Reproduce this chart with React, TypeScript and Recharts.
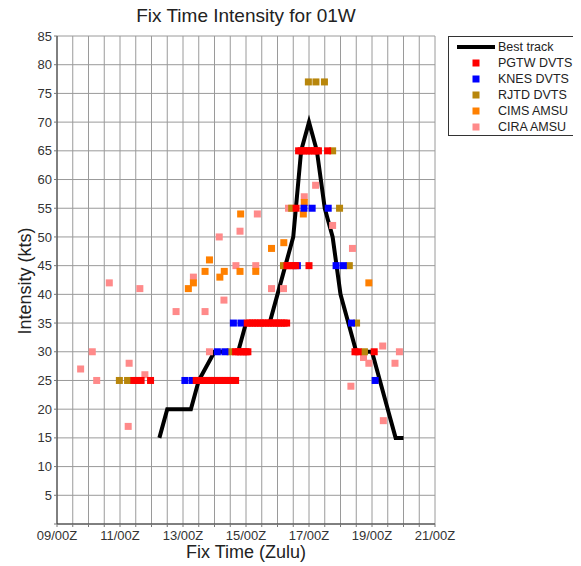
import {
  CartesianGrid,
  ComposedChart,
  Line,
  Scatter,
  XAxis,
  YAxis,
} from 'recharts';

// time in days of the month (9.0 = 09/00Z), intensity in kts
const bestTrackTime = [12.25, 12.5, 13.25, 13.5, 14.0, 14.75, 15.0, 15.75, 16.0, 16.25, 16.5, 16.75, 17.0, 17.25, 17.5, 17.75, 18.0, 18.25, 18.5, 19.0, 19.25, 19.5, 19.75, 20.0];
const bestTrackKts = [15, 20, 20, 25, 30, 30, 35, 35, 40, 45, 50, 65, 70, 65, 55, 50, 40, 35, 30, 30, 25, 20, 15, 15];

const pgtwTime = [
  11.44, 11.54, 11.67, 11.97,
  13.42, 13.5, 13.58, 13.67, 13.75, 13.83, 13.92, 14.0, 14.08, 14.17, 14.25, 14.33, 14.42, 14.5, 14.58, 14.67,
  14.67, 14.75, 14.83, 14.92, 15.0, 15.06,
  15.04, 15.12, 15.21, 15.29, 15.37, 15.46, 15.54, 15.62, 15.71, 15.79, 15.87, 15.96, 16.04, 16.12, 16.21, 16.29,
  16.3, 16.4, 16.5, 16.58, 17.0,
  16.59,
  16.67, 16.75, 16.83, 16.92, 17.0, 17.08, 17.17, 17.25, 17.3, 17.59,
  18.46, 18.56, 19.07,
];
const pgtwKts = [
  25, 25, 25, 25,
  25, 25, 25, 25, 25, 25, 25, 25, 25, 25, 25, 25, 25, 25, 25, 25,
  30, 30, 30, 30, 30, 30,
  35, 35, 35, 35, 35, 35, 35, 35, 35, 35, 35, 35, 35, 35, 35, 35,
  45, 45, 45, 45, 45,
  55,
  65, 65, 65, 65, 65, 65, 65, 65, 65, 65,
  30, 30, 30,
];

const knesTime = [13.06, 13.29, 14.09, 14.33, 14.6, 14.84, 16.63, 16.84, 17.1, 17.61, 17.86, 18.09, 18.35, 19.1];
const knesKts = [25, 25, 30, 30, 35, 35, 45, 55, 55, 55, 45, 45, 35, 25];

const rjtdTime = [10.98, 11.24, 14.5, 16.19, 16.45, 16.98, 17.22, 17.49, 17.75, 17.97, 18.28, 18.51, 18.76];
const rjtdKts = [25, 25, 30, 45, 55, 77, 77, 77, 65, 55, 45, 35, 30];

const cimsTime = [13.17, 13.33, 13.7, 13.84, 14.17, 14.31, 14.81, 14.83, 15.31, 15.81, 16.2, 16.82, 16.85, 18.9];
const cimsKts = [41, 42, 44, 46, 43, 44, 44, 54, 44, 48, 49, 54, 56, 42];

const ciraTime = [9.75, 10.12, 10.26, 10.66, 11.26, 11.29, 11.63, 11.79, 12.78, 13.33, 13.7, 13.84, 14.15, 14.3, 14.68, 14.81, 15.31, 15.36, 15.81, 16.19, 16.35, 16.85, 17.21, 17.75, 18.33, 18.38, 18.73, 18.9, 19.34, 19.36, 19.73, 19.87];
const ciraKts = [27, 30, 25, 42, 17, 28, 41, 26, 37, 43, 37, 30, 50, 39, 45, 51, 45, 54, 41, 41, 55, 57, 59, 52, 24, 48, 29, 28, 31, 18, 28, 30];

const xTicks = [9, 9.5, 10, 10.5, 11, 11.5, 12, 12.5, 13, 13.5, 14, 14.5, 15, 15.5, 16, 16.5, 17, 17.5, 18, 18.5, 19, 19.5, 20, 20.5, 21];
const xLabelTicks = [9, 11, 13, 15, 17, 19, 21];
const yTicks = [0, 5, 10, 15, 20, 25, 30, 35, 40, 45, 50, 55, 60, 65, 70, 75, 80, 85];

const seriesNames = ['Best track', 'PGTW DVTS', 'KNES DVTS', 'RJTD DVTS', 'CIMS AMSU', 'CIRA AMSU'];
const seriesColors = ['#000000', '#ff0000', '#0000ff', '#b8860b', '#ff8000', '#ff8a8a'];

const toPts = (t: number[], k: number[]) => t.map((d, i) => ({ d, v: k[i] }));

const FONT = '"Liberation Sans", Arial, sans-serif';

function square(color: string) {
  return (props: { cx?: number; cy?: number }) => {
    if (props.cx == null || props.cy == null) return <g />;
    return <rect x={props.cx - 3.5} y={props.cy - 3.5} width={7} height={7} fill={color} />;
  };
}

function fmtX(v: number) {
  if (!xLabelTicks.includes(v)) return '';
  return `${String(v).padStart(2, '0')}/00Z`;
}

function LegendBox() {
  return (
    <div
      style={{
        position: 'absolute',
        left: 448,
        top: 36,
        width: 128,
        height: 98,
        border: '1.5px solid #333',
        background: '#fff',
        fontFamily: FONT,
        fontSize: 12.5,
        color: '#222',
      }}
    >
      {seriesNames.map((name, i) => (
        <div key={name} style={{ position: 'absolute', left: 0, top: 2 + i * 15.9, height: 16, width: 128 }}>
          <svg width={48} height={16} style={{ position: 'absolute', left: 6, top: 0 }}>
            {i === 0 ? (
              <line x1={2} x2={40} y1={8} y2={8} stroke="#000" strokeWidth={4} />
            ) : (
              <rect x={17.5} y={4.5} width={7} height={7} fill={seriesColors[i]} />
            )}
          </svg>
          <span style={{ position: 'absolute', left: 49, top: 0, lineHeight: '16px', whiteSpace: 'nowrap' }}>{name}</span>
        </div>
      ))}
    </div>
  );
}

export default function App() {
  const best = toPts(bestTrackTime, bestTrackKts);
  return (
    <div style={{ position: 'relative', width: 581, height: 566, margin: '-8px 0 0 -8px', background: '#fff' }}>
      <div
        style={{
          position: 'absolute',
          left: 96,
          width: 300,
          top: 5,
          textAlign: 'center',
          fontFamily: FONT,
          fontSize: 19,
          color: '#222',
          whiteSpace: 'nowrap',
        }}
      >
        Fix Time Intensity for 01W
      </div>
      <ComposedChart width={581} height={566} margin={{ top: 36, right: 146, bottom: 12, left: 7 }}>
        <CartesianGrid stroke="#9a9a9a" strokeWidth={1} />
        <XAxis
          type="number"
          dataKey="d"
          domain={[9, 21]}
          ticks={xTicks}
          interval={0}
          tickFormatter={fmtX}
          height={30}
          tickSize={3}
          tickMargin={4}
          tick={{ fontSize: 13, fontFamily: FONT, fill: '#333' }}
          tickLine={{ stroke: '#777' }}
          axisLine={{ stroke: '#333' }}
          allowDataOverflow
        />
        <YAxis
          type="number"
          dataKey="v"
          domain={[0, 85]}
          ticks={yTicks}
          interval={0}
          tickFormatter={(v: number) => (v === 0 ? '' : String(v))}
          width={50}
          tickSize={3}
          tickMargin={2}
          tick={{ fontSize: 13, fontFamily: FONT, fill: '#333' }}
          tickLine={{ stroke: '#777' }}
          axisLine={{ stroke: '#333' }}
          allowDataOverflow
        />
        <Line
          data={best}
          dataKey="v"
          type="linear"
          stroke="#000"
          strokeWidth={4}
          dot={false}
          activeDot={false}
          isAnimationActive={false}
        />
        <Scatter data={toPts(ciraTime, ciraKts)} dataKey="v" shape={square(seriesColors[5])} isAnimationActive={false} />
        <Scatter data={toPts(cimsTime, cimsKts)} dataKey="v" shape={square(seriesColors[4])} isAnimationActive={false} />
        <Scatter data={toPts(rjtdTime, rjtdKts)} dataKey="v" shape={square(seriesColors[3])} isAnimationActive={false} />
        <Scatter data={toPts(knesTime, knesKts)} dataKey="v" shape={square(seriesColors[2])} isAnimationActive={false} />
        <Scatter data={toPts(pgtwTime, pgtwKts)} dataKey="v" shape={square(seriesColors[1])} isAnimationActive={false} />
      </ComposedChart>
      <div
        style={{
          position: 'absolute',
          left: 25,
          top: 281,
          transform: 'translate(-50%, -50%) rotate(-90deg)',
          fontFamily: FONT,
          fontSize: 18,
          color: '#222',
          whiteSpace: 'nowrap',
        }}
      >
        Intensity (kts)
      </div>
      <div
        style={{
          position: 'absolute',
          left: 146,
          width: 200,
          top: 542,
          textAlign: 'center',
          fontFamily: FONT,
          fontSize: 18,
          lineHeight: '20px',
          color: '#222',
          whiteSpace: 'nowrap',
        }}
      >
        Fix Time (Zulu)
      </div>
      <LegendBox />
    </div>
  );
}
